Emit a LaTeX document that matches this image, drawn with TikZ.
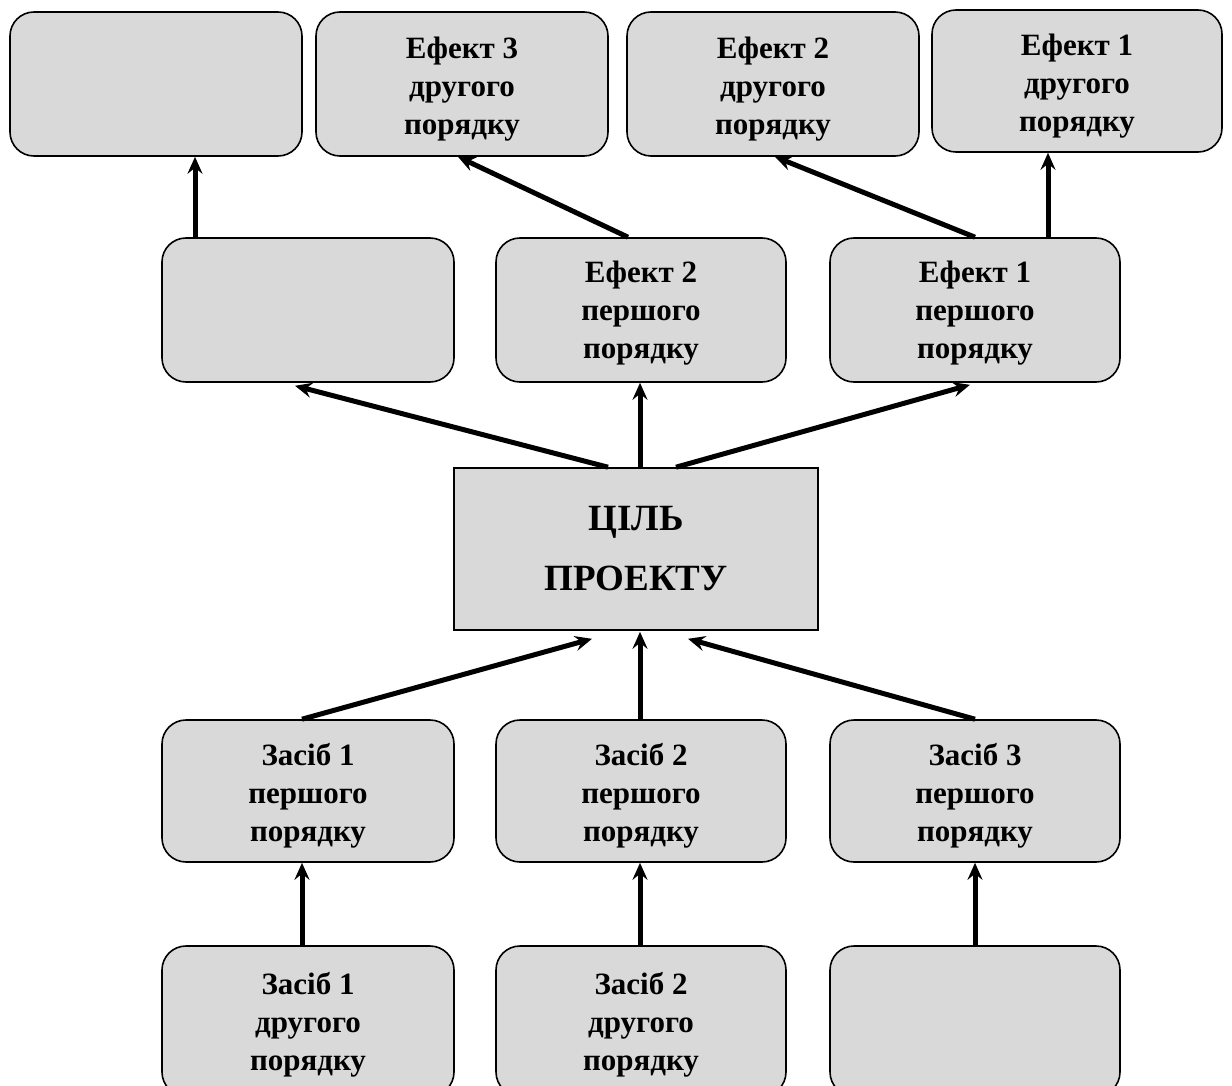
\documentclass[tikz,border=0pt]{standalone}
\usepackage{fontspec}
\setmainfont{Liberation Serif}
\usetikzlibrary{arrows.meta}
\tikzset{
  rbox/.style={draw=black, line width=1.6pt, fill=boxgray, rounded corners=24pt,
    minimum width=292pt, minimum height=144pt, inner sep=0pt},
  lbl/.style={align=center, inner sep=0pt, font=\fontsize{31}{38}\selectfont\bfseries},
  goalbox/.style={draw=black, line width=1.6pt, fill=boxgray,
    minimum width=364pt, minimum height=162pt, align=center, inner sep=0pt,
    font=\fontsize{37}{60}\selectfont\bfseries},
  conn/.style={line width=5pt, -{Stealth[length=17pt,width=15pt,inset=6pt]}},
}
\definecolor{boxgray}{HTML}{D9D9D9}
\begin{document}
\begin{tikzpicture}[x=1pt,y=-1pt]
\path[use as bounding box] (0,0) rectangle (1232,1086);
\clip (0,0) rectangle (1232,1086);
% top row
\node[rbox] (A) at (156,84) {};
\node[rbox] (B) at (462,84) {};
\node[lbl] (Bt) at ([yshift=-5pt]B.center) {Ефект 3\\другого\\порядку};
\node[rbox] (C) at (773,84) {};
\node[lbl] (Ct) at ([yshift=-5pt]C.center) {Ефект 2\\другого\\порядку};
\node[rbox, minimum width=290pt, minimum height=142pt] (D) at (1077,81) {};
\node[lbl] (Dt) at ([yshift=-5pt]D.center) {Ефект 1\\другого\\порядку};
% middle row
\node[rbox] (E) at (308,310) {};
\node[rbox, minimum width=290pt] (F) at (641,310) {};
\node[lbl] (Ft) at ([yshift=-3pt]F.center) {Ефект 2\\першого\\порядку};
\node[rbox, minimum width=290pt] (G) at (975,310) {};
\node[lbl] (Gt) at ([yshift=-3pt]G.center) {Ефект 1\\першого\\порядку};
% goal
\node[goalbox] (Goal) at (636,549) {ЦІЛЬ\\ПРОЕКТУ};
% lower row
\node[rbox, minimum height=142pt] (H) at (308,791) {};
\node[lbl] (Ht) at ([yshift=-5pt]H.center) {Засіб 1\\першого\\порядку};
\node[rbox, minimum width=290pt, minimum height=142pt] (I) at (641,791) {};
\node[lbl] (It) at ([yshift=-5pt]I.center) {Засіб 2\\першого\\порядку};
\node[rbox, minimum width=290pt, minimum height=142pt] (J) at (975,791) {};
\node[lbl] (Jt) at ([yshift=-5pt]J.center) {Засіб 3\\першого\\порядку};
% bottom row
\node[rbox, minimum height=150pt] (K) at (308,1021) {};
\node[lbl] (Kt) at ([yshift=-4pt]K.center) {Засіб 1\\другого\\порядку};
\node[rbox, minimum width=290pt, minimum height=150pt] (L) at (641,1021) {};
\node[lbl] (Lt) at ([yshift=-4pt]L.center) {Засіб 2\\другого\\порядку};
\node[rbox, minimum width=290pt, minimum height=150pt] (M) at (975,1021) {};
% connectors
\draw[conn] ([xshift=-113pt]E.north) -- ([xshift=39pt]A.south);
\draw[conn] ([xshift=-13pt]F.north) -- ([xshift=-4pt]B.south);
\draw[conn] (G.north) -- ([xshift=2pt]C.south);
\draw[conn] ([xshift=73pt]G.north) -- ([xshift=-29pt]D.south);
\draw[conn] ([xshift=-28pt]Goal.north) -- ([xshift=-13pt,yshift=-3pt]E.south);
\draw[conn] ([xshift=4pt]Goal.north) -- ([xshift=-1pt]F.south);
\draw[conn] ([xshift=40pt]Goal.north) -- ([xshift=-5pt,yshift=-2pt]G.south);
\draw[conn] ([xshift=-6pt]H.north) -- ([xshift=-44pt,yshift=-8pt]Goal.south);
\draw[conn] ([xshift=-1pt]I.north) -- ([xshift=4pt,yshift=-1pt]Goal.south);
\draw[conn] (J.north) -- ([xshift=52pt,yshift=-8pt]Goal.south);
\draw[conn] ([xshift=-6pt]K.north) -- ([xshift=-6pt]H.south);
\draw[conn] ([xshift=-1pt]L.north) -- ([xshift=-1pt]I.south);
\draw[conn] (M.north) -- (J.south);
\end{tikzpicture}
\end{document}
